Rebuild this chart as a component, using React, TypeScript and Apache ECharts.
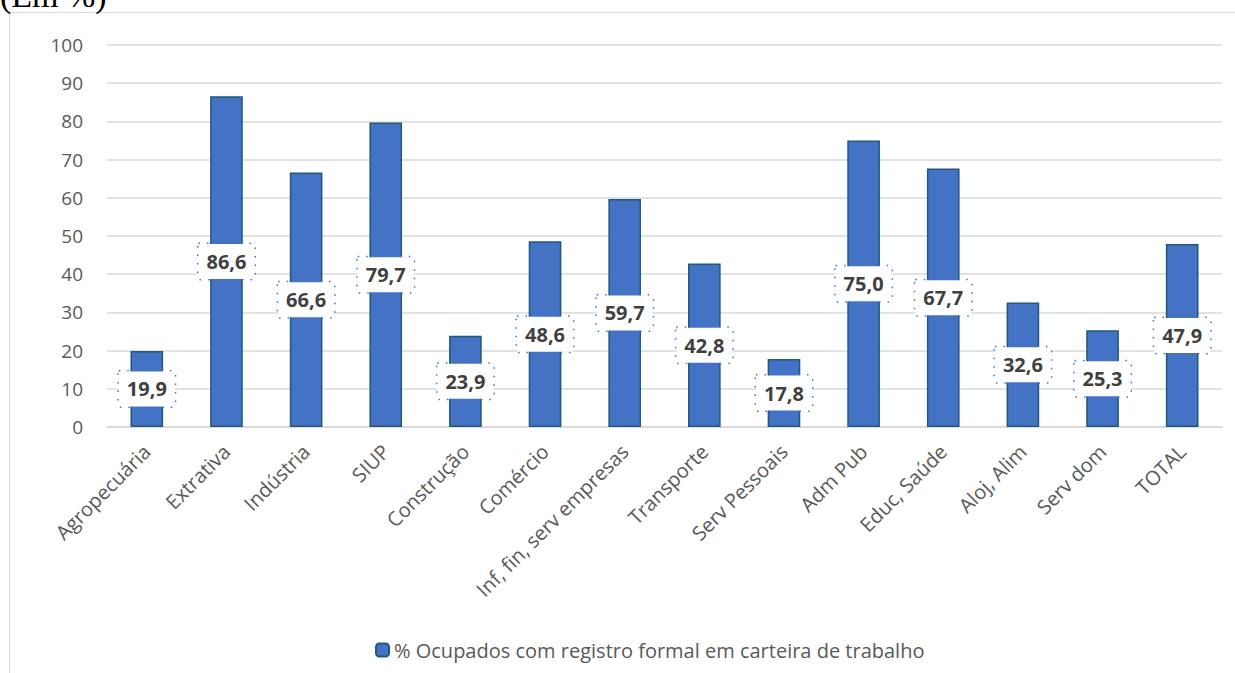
import React, { useEffect, useRef } from "react";
import * as echarts from "echarts";

const categories = [
  "Agropecuária", "Extrativa", "Indústria", "SIUP", "Construção", "Comércio",
  "Inf, fin, serv empresas", "Transporte", "Serv Pessoais", "Adm Pub",
  "Educ, Saúde", "Aloj, Alim", "Serv dom", "TOTAL",
];
const values = [19.9, 86.6, 66.6, 79.7, 23.9, 48.6, 59.7, 42.8, 17.8, 75.0, 67.7, 32.6, 25.3, 47.9];
const seriesName = "% Ocupados com registro formal em carteira de trabalho";
const titleText = "(Em %)";

export default function App() {
  const ref = useRef<HTMLDivElement>(null);
  useEffect(() => {
    document.body.style.margin = "0";
    const chart = echarts.init(ref.current!, null, { renderer: "svg" });
    const font = "'Open Sans', Lato, sans-serif";
    chart.setOption({
      animation: false,
      textStyle: { fontFamily: font },
      graphic: [
        {
          type: "rect",
          shape: { x: 9.5, y: 12.5, width: 1300, height: 700 },
          style: { fill: "none", stroke: "#d9d9d9", lineWidth: 1 },
          silent: true,
        },
        {
          type: "text",
          left: 0,
          top: -22,
          style: { text: titleText, font: "34px 'Liberation Serif', 'DejaVu Serif', serif", fill: "#000" },
        },
      ],
      grid: { left: 107, right: 13, top: 45, bottom: 246, containLabel: false },
      legend: {
        bottom: 8,
        left: 370,
        itemWidth: 13,
        itemHeight: 13,
        itemGap: 6,
        textStyle: { fontSize: 20, color: "#595959", fontFamily: font },
        data: [seriesName],
      },
      xAxis: {
        type: "category",
        data: categories,
        axisTick: { show: false },
        axisLine: { lineStyle: { color: "#d9d9d9", width: 1.5 } },
        axisLabel: { rotate: 45, fontSize: 20, color: "#595959", interval: 0, margin: 21, fontFamily: font },
      },
      yAxis: {
        type: "value",
        min: 0,
        max: 100,
        interval: 10,
        axisLine: { show: false },
        axisTick: { show: false },
        splitLine: { lineStyle: { color: "#d9d9d9", width: 1.5 } },
        axisLabel: { fontSize: 19, color: "#595959", margin: 24, fontFamily: font },
      },
      series: [
        {
          name: seriesName,
          type: "bar",
          data: values,
          barWidth: "41%",
          itemStyle: { color: "#4472C4", borderColor: "#1f5a7a", borderWidth: 1.5 },
          label: {
            show: true,
            position: "inside",
            formatter: (p: any) => p.value.toFixed(1).replace(".", ","),
            fontSize: 20,
            fontWeight: "bold",
            color: "#404040",
            fontFamily: font,
            backgroundColor: "#fff",
            borderColor: "#4472C4",
            borderWidth: 1.5,
            borderType: [1.5, 7],
            padding: [8, 8, 7, 8],
          },
        },
      ],
    });
    return () => chart.dispose();
  }, []);
  return <div ref={ref} style={{ width: 1235, height: 673 }} />;
}
